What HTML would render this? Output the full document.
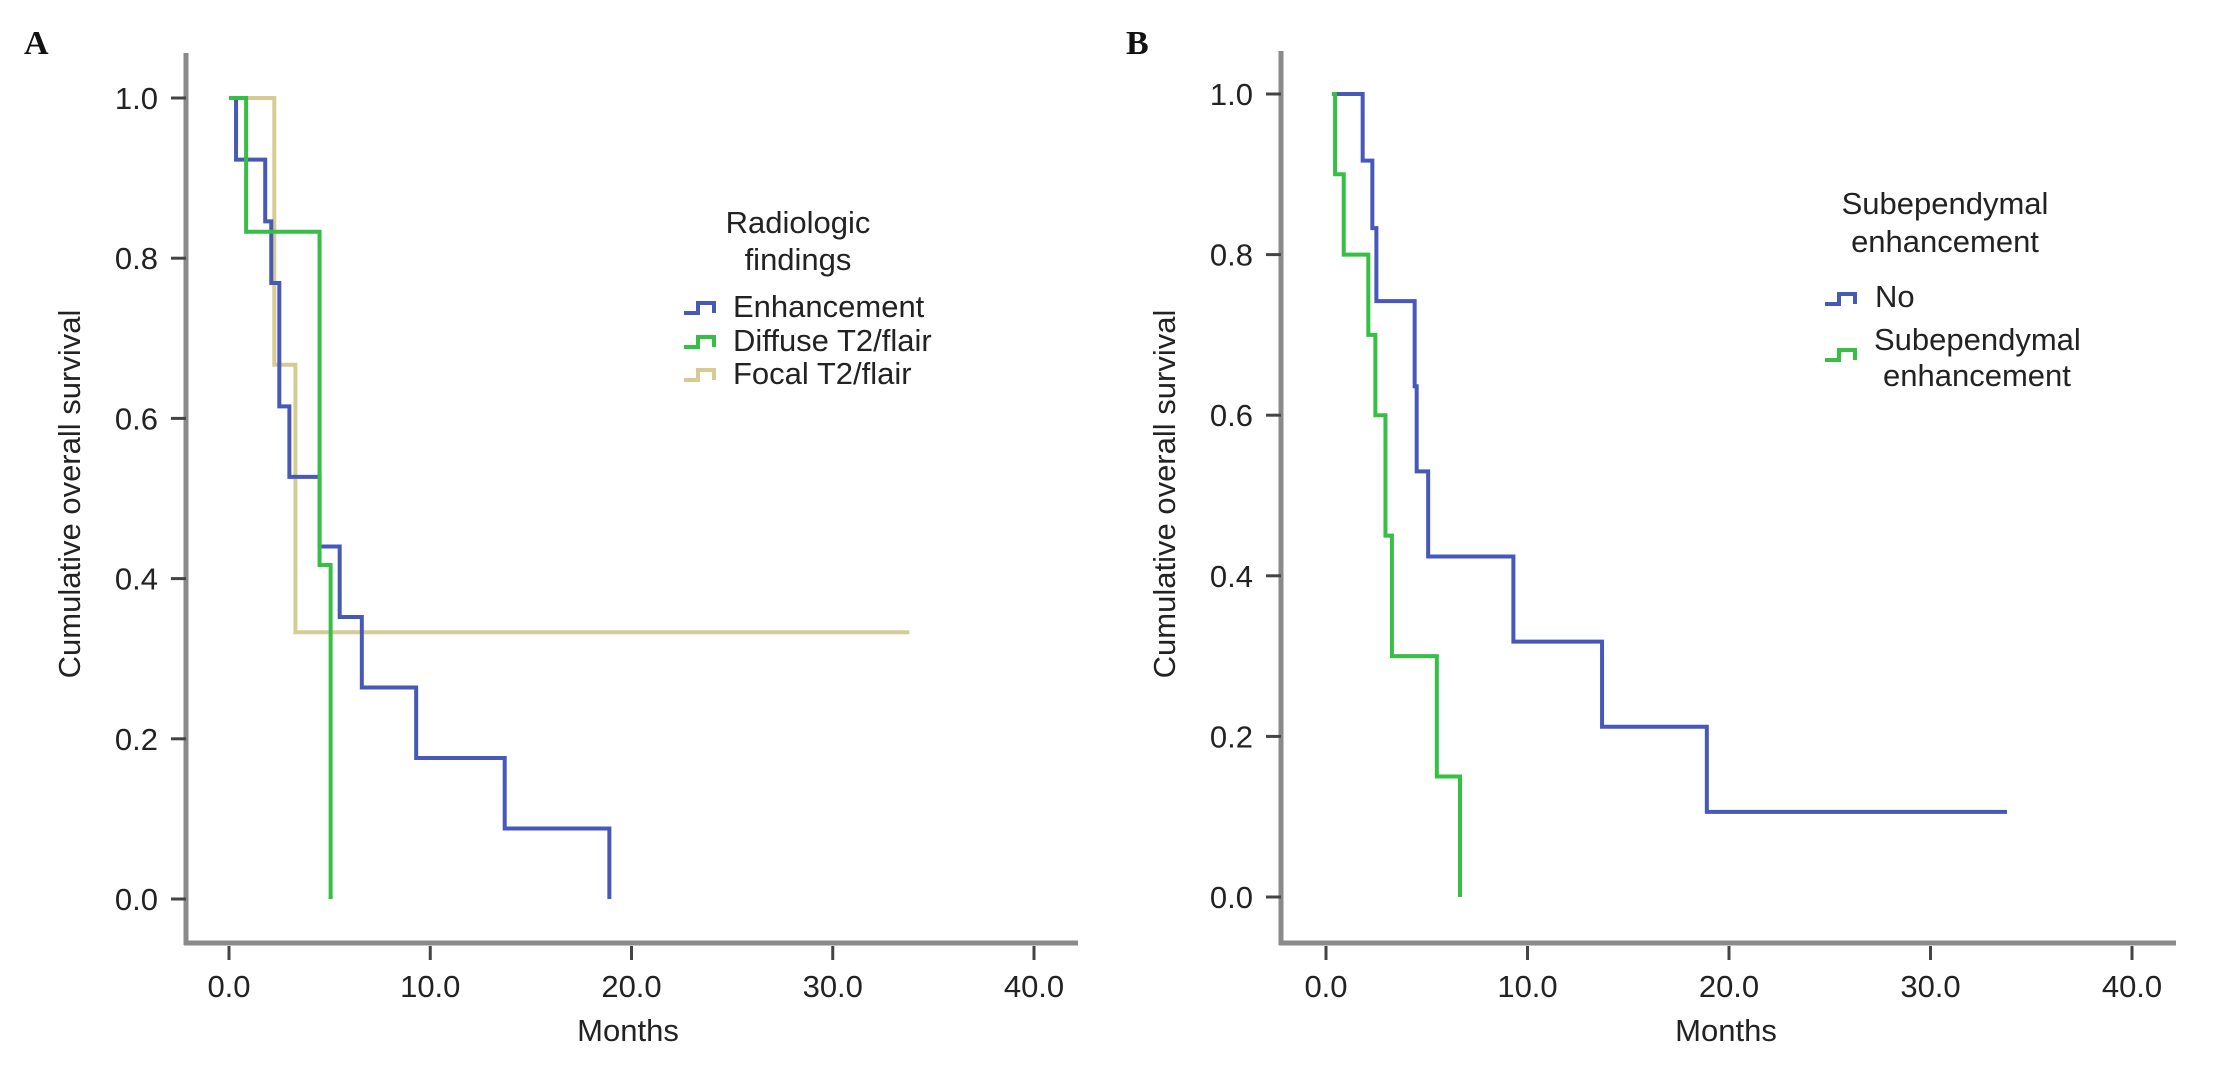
<!DOCTYPE html>
<html><head><meta charset="utf-8"><style>
html,body{margin:0;padding:0;background:#fff;}
svg{display:block;font-family:"Liberation Sans",sans-serif;}
</style></head><body>
<svg id="fig" width="2213" height="1077" viewBox="0 0 2213 1077" xmlns="http://www.w3.org/2000/svg"></svg>
<script>
// Panel A data (months, survival)
const aEnhT = [0.3, 0.35, 1.8, 2.1, 2.5, 3.0, 4.5, 5.5, 6.6, 9.3, 13.7, 18.9];
const aEnhS = [1.0, 0.923, 0.846, 0.769, 0.615, 0.527, 0.44, 0.352, 0.264, 0.176, 0.088, 0.0];
const aDifT = [0, 0.85, 4.5, 5.05];
const aDifS = [1.0, 0.833, 0.417, 0.0];
const aFocT = [0, 2.25, 3.3];
const aFocS = [1.0, 0.667, 0.333];
const aFocEnd = 33.8;
// Panel B data
const bNoT = [0.3, 1.82, 2.3, 2.5, 4.4, 4.5, 5.07, 9.3, 13.7, 18.9];
const bNoS = [1.0, 0.917, 0.833, 0.742, 0.636, 0.53, 0.424, 0.318, 0.212, 0.106];
const bNoEnd = 33.8;
const bSubT = [0.3, 0.45, 0.88, 2.1, 2.45, 2.95, 3.27, 5.5, 6.65];
const bSubS = [1.0, 0.9, 0.8, 0.7, 0.6, 0.45, 0.3, 0.15, 0.0];
const xTicks = [0, 10, 20, 30, 40];
const xTickLabels = ["0.0", "10.0", "20.0", "30.0", "40.0"];
const yTicks = [0, 0.2, 0.4, 0.6, 0.8, 1.0];
const yTickLabels = ["0.0", "0.2", "0.4", "0.6", "0.8", "1.0"];

const NS = "http://www.w3.org/2000/svg";
const svg = document.getElementById('fig');
function mk(tag, attrs, parent, text){
  const e = document.createElementNS(NS, tag);
  for (const k in attrs) e.setAttribute(k, attrs[k]);
  if (text !== undefined) e.textContent = text;
  (parent || svg).appendChild(e);
  return e;
}
const BLUE = "#4658b8", GREEN = "#35bf45", TAN = "#d6cb93", AX = "#8a8a8a", TXT = "#222";

function panel(p){
  const g = mk('g', {});
  
  
  const X = m => p.x0 + m * p.px;
  const Y = s => p.y0 - s * p.py;
  const lab = mk('text', {x: p.labX, y: 54, 'font-family': '"Liberation Serif",serif', 'font-weight': 'bold', 'font-size': 34, fill: '#111'}, g, p.letter);
  
  
  const ya = mk('line', {x1: p.axX, y1: p.axTop, x2: p.axX, y2: p.axY + 2, stroke: AX, 'stroke-width': 5}, g);
  
  
  const xa = mk('line', {x1: p.axX - 2, y1: p.axY, x2: p.axRight, y2: p.axY, stroke: AX, 'stroke-width': 5}, g);
  
  
  xTicks.forEach((v, i) => {
    const t = mk('line', {x1: X(v), y1: p.axY + 3, x2: X(v), y2: p.axY + 17, stroke: '#444', 'stroke-width': 3}, g);
    
    
    const tl = mk('text', {x: X(v), y: 997, 'text-anchor': 'middle', 'font-size': 31, fill: TXT}, g, xTickLabels[i]);
    
    
  });
  yTicks.forEach((v, i) => {
    const t = mk('line', {x1: p.axX - 15, y1: Y(v), x2: p.axX, y2: Y(v), stroke: '#444', 'stroke-width': 3}, g);
    
    
    const tl = mk('text', {x: p.axX - 28, y: Y(v) + 11, 'text-anchor': 'end', 'font-size': 31, fill: TXT}, g, yTickLabels[i]);
    
    
  });
  const xt = mk('text', {x: p.monthsX, y: 1041, 'text-anchor': 'middle', 'font-size': 31, fill: TXT}, g, 'Months');
  
  
  const yt = mk('text', {x: 0, y: 0, 'text-anchor': 'middle', 'font-size': 31, fill: TXT, transform: `translate(${p.yTitleX},494) rotate(-90)`}, g, 'Cumulative overall survival');
  
  
  p.series.forEach(s => {
    let d = `M${X(s.t[0])},${Y(s.s[0])}`;
    for (let i = 1; i < s.t.length; i++) {
      d += ` H${X(s.t[i])} V${Y(s.s[i])}`;
    }
    if (s.end !== undefined) d += ` H${X(s.end)}`;
    const path = mk('path', {d: d, fill: 'none', stroke: s.color, 'stroke-width': 4}, g);
    
    
  });
  p.titleLines.forEach((tx, i) => {
    const t = mk('text', {x: p.legTitleX, y: p.legTitleY[i], 'text-anchor': 'middle', 'font-size': 31, fill: TXT}, g, tx);
    
    
  });
  p.entries.forEach(en => {
    const ix = p.iconX, iy = en.iconY;
    const ic = mk('path', {d: `M${ix},${iy+4} H${ix+14} V${iy-6} H${ix+30} V${iy+4}`, fill: 'none', stroke: en.color, 'stroke-width': 4}, g);
    
    
    en.lines.forEach((ln, j) => {
      const t = mk('text', {x: en.tx[j], y: en.ty[j], 'font-size': 31, fill: TXT}, g, ln);
      
      
    });
  });
}

panel({
  name: 'panel-a', letter: 'A', labX: 24,
  x0: 229, px: 20.125, y0: 899, py: 801,
  axX: 186, axTop: 53, axY: 943, axRight: 1078,
  monthsX: 628, yTitleX: 80,
  series: [
    {name: 'focal-t2-flair-curve', t: aFocT, s: aFocS, end: aFocEnd, color: TAN},
    {name: 'enhancement-curve', t: aEnhT, s: aEnhS, color: BLUE},
    {name: 'diffuse-t2-flair-curve', t: aDifT, s: aDifS, color: GREEN}
  ],
  titleLines: ['Radiologic', 'findings'], legTitleX: 798, legTitleY: [233, 270],
  iconX: 684,
  entries: [
    {color: BLUE, iconY: 309, lines: ['Enhancement'], tx: [733], ty: [317]},
    {color: GREEN, iconY: 343, lines: ['Diffuse T2/flair'], tx: [733], ty: [351]},
    {color: TAN, iconY: 376, lines: ['Focal T2/flair'], tx: [733], ty: [384]}
  ]
});

panel({
  name: 'panel-b', letter: 'B', labX: 1126,
  x0: 1326, px: 20.15, y0: 897, py: 803,
  axX: 1281, axTop: 51, axY: 943, axRight: 2176,
  monthsX: 1726, yTitleX: 1175,
  series: [
    {name: 'no-subependymal-curve', t: bNoT, s: bNoS, end: bNoEnd, color: BLUE},
    {name: 'subependymal-curve', t: bSubT, s: bSubS, color: GREEN}
  ],
  titleLines: ['Subependymal', 'enhancement'], legTitleX: 1945, legTitleY: [214, 252],
  iconX: 1825,
  entries: [
    {color: BLUE, iconY: 300, lines: ['No'], tx: [1875], ty: [307]},
    {color: GREEN, iconY: 356, lines: ['Subependymal', 'enhancement'], tx: [1874, 1883], ty: [350, 386]}
  ]
});
</script>
</body></html>
